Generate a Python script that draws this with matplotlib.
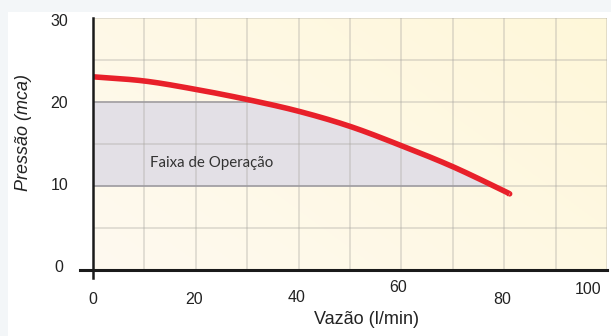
import numpy as np
import matplotlib
matplotlib.use("Agg")
import matplotlib.pyplot as plt
from matplotlib.patches import Rectangle
from matplotlib.transforms import offset_copy

# Pump curve: flow (l/min) vs head (mca)
vazao = [0, 10, 20, 30, 40, 50, 60, 70, 80, 81]
pressao = [23.0, 22.5, 21.5, 20.3, 18.9, 17.1, 14.8, 12.3, 9.4, 9.05]

# Operating range band
faixa_min, faixa_max = 10, 20
faixa_label = "Faixa de Operação"

x_ticks = [0, 20, 40, 60, 80, 100]
y_ticks = [0, 10, 20, 30]


def catmull_rom(x, y, n=30):
    """Smooth curve through the given points."""
    x = np.asarray(x, float)
    y = np.asarray(y, float)
    px = np.concatenate([[2 * x[0] - x[1]], x, [2 * x[-1] - x[-2]]])
    py = np.concatenate([[2 * y[0] - y[1]], y, [2 * y[-1] - y[-2]]])
    ox, oy = [], []
    for i in range(1, len(px) - 2):
        t = np.linspace(0, 1, n, endpoint=(i == len(px) - 3))
        t2, t3 = t * t, t * t * t
        for arr, out in ((px, ox), (py, oy)):
            p0, p1, p2, p3 = arr[i - 1], arr[i], arr[i + 1], arr[i + 2]
            out.extend(0.5 * (2 * p1 + (-p0 + p2) * t
                              + (2 * p0 - 5 * p1 + 4 * p2 - p3) * t2
                              + (-p0 + 3 * p1 - 3 * p2 + p3) * t3))
    return np.array(ox), np.array(oy)


W, H, DPI = 611, 336, 100
fig = plt.figure(figsize=(W / DPI, H / DPI), dpi=DPI)
fig.patch.set_facecolor("#f3f6f8")
fig.add_artist(Rectangle((8 / W, 0), 1, 1 - 12 / H, transform=fig.transFigure,
                         facecolor="white", edgecolor="none", zorder=0))

ax = fig.add_axes([93 / W, 1 - 270 / H, 514 / W, 252 / H])
ax.set_xlim(0, 100)
ax.set_ylim(0, 30)
ax.patch.set_alpha(0)

# warm cream gradient background
gx, gy = np.meshgrid(np.linspace(0, 1, 200), np.linspace(0, 1, 120))
t = np.clip((gx * 0.6 + gy * 0.4), 0, 1)
c0 = np.array([0xfe, 0xfa, 0xf0]) / 255
c1 = np.array([0xff, 0xf7, 0xd9]) / 255
img = c0[None, None, :] * (1 - t[..., None]) + c1[None, None, :] * t[..., None]
ax.imshow(img, extent=[0, 100, 0, 30], origin="lower", aspect="auto", zorder=0)

cx, cy = catmull_rom(vazao, pressao)

# operating band clipped under the curve
xs = np.linspace(0, 80, 600)
cs = np.interp(xs, cx, cy)
top = np.minimum(cs, faixa_max)
ax.fill_between(xs, faixa_min, top, where=top >= faixa_min,
                color="#e3e0e6", lw=0, zorder=1)

# grid
for gxv in np.arange(0, 101, 10):
    ax.axvline(gxv, color="#a9a6a0", alpha=0.42, lw=1.1, zorder=2)
for gyv in np.arange(0, 31, 5):
    ax.axhline(gyv, color="#a9a6a0", alpha=0.42, lw=1.1, zorder=2)

# band edges
x_top = np.interp(-faixa_max, -cy, cx)
x_bot = np.interp(-faixa_min, -cy, cx)
ax.plot([0, x_top], [faixa_max, faixa_max], color="#9d9ba0", lw=1.1, zorder=3)
ax.plot([0, x_bot], [faixa_min, faixa_min], color="#9d9ba0", lw=1.1, zorder=3)

ax.text(11, 12.7, faixa_label, fontsize=10.8, color="#333333", family="Lato",
        ha="left", va="center", zorder=4)

# pump curve
ax.plot(cx, cy, color="#e8202a", lw=4, solid_capstyle="butt", zorder=5)

# axes lines extending past origin
for s in ax.spines.values():
    s.set_visible(False)
ax.axvline(0, ymin=-8 / 252, ymax=1, color="#1a1a1a", lw=1.8, clip_on=False, zorder=6)
ax.axhline(0, xmin=-13 / 514, xmax=1, color="#1a1a1a", lw=2.2, clip_on=False, zorder=6)

ax.set_xticks([])
ax.set_yticks([])

# tick labels (pixel offsets from data position)
font = dict(family="Liberation Sans", fontsize=11.5, color="#222222")
x_off = {0: (0, -29), 20: (-2, -29), 40: (-2, -28), 60: (-3, -18), 80: (-2, -29), 100: (-19, -20)}
for v in x_ticks:
    dx, dy = x_off[v]
    tr = offset_copy(ax.transData, fig=fig, x=dx, y=dy, units="dots")
    ax.text(v, 0, str(v), transform=tr, ha="center", va="center", clip_on=False, **font)
y_off = {0: (-30, 2), 10: (-25, 0), 20: (-25, -1), 30: (-25, -4)}
for v in y_ticks:
    dx, dy = y_off[v]
    tr = offset_copy(ax.transData, fig=fig, x=dx, y=dy, units="dots")
    ax.text(0, v, str(v), transform=tr, ha="right", va="center", clip_on=False, **font)

fig.text(367 / W, 1 - 319 / H, "Vazão (l/min)", ha="center", va="center",
         family="Liberation Sans", fontsize=13, color="#222222")
fig.text(24 / W, 1 - 133 / H, "Pressão (mca)", ha="center", va="center",
         rotation=90, style="italic", family="Liberation Sans", fontsize=13,
         color="#222222")

fig.savefig("out.png", dpi=DPI, facecolor=fig.get_facecolor())
